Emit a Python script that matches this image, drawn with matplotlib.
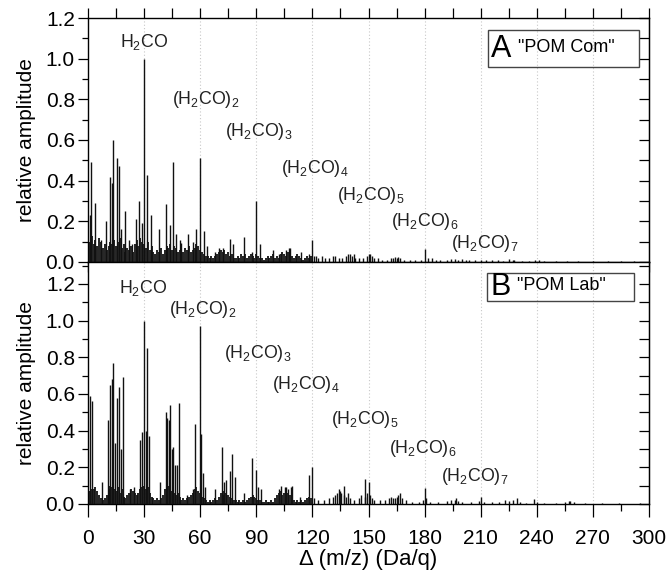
import numpy as np
import matplotlib
matplotlib.use("Agg")
import matplotlib.pyplot as plt
from matplotlib.patches import Rectangle
from matplotlib.ticker import MultipleLocator, FormatStrFormatter

plt.rcParams['font.family'] = ['Liberation Sans', 'DejaVu Sans']
plt.rcParams['mathtext.default'] = 'regular'

# ---------------------------------------------------------------------------
# Data (m/z difference, relative amplitude)
# ---------------------------------------------------------------------------

# Panel A "POM Com" -- dominant peaks
peaks_a_pos = [1, 1.6, 3.6, 7, 9.6, 11.8, 12.7, 13.6, 15.5, 16.6, 17.9, 19.8,
               21.8, 23.5, 25.6, 27.5, 28.7, 29.8, 31.6, 33.6, 38, 41.8, 43.6,
               45.7, 47.3, 49, 49.5, 53.6, 56.4, 57.7, 59.8, 61.8, 63.6, 68,
               70, 72, 75.7, 77.3, 83.5, 87.7, 89.9, 91.8, 98.9, 102, 106,
               107.3, 108, 114, 118, 119.8, 122]
peaks_a_amp = [0.23, 0.49, 0.29, 0.11, 0.20, 0.42, 0.39, 0.60, 0.51, 0.47, 0.16, 0.25,
               0.11, 0.09, 0.21, 0.30, 0.19, 1.00, 0.43, 0.23, 0.16, 0.285, 0.18,
               0.49, 0.14, 0.11, 0.095, 0.14, 0.10, 0.16, 0.51, 0.15, 0.08, 0.05,
               0.07, 0.07, 0.115, 0.09, 0.125, 0.05, 0.30, 0.09, 0.06, 0.04, 0.06,
               0.07, 0.07, 0.05, 0.04, 0.108, 0.03]

# Panel A -- low-level "grass", one value per integer m/z from 0 to 119
grass_a = [0.12, 0.10, 0.13, 0.09, 0.11, 0.08, 0.12, 0.10, 0.07, 0.09,
           0.06, 0.08, 0.10, 0.09, 0.11, 0.08, 0.10, 0.12, 0.07, 0.09,
           0.05, 0.07, 0.06, 0.08, 0.05, 0.09, 0.11, 0.08, 0.12, 0.10,
           0.09, 0.07, 0.10, 0.06, 0.08, 0.05, 0.04, 0.06, 0.05, 0.07,
           0.04, 0.06, 0.08, 0.07, 0.09, 0.06, 0.08, 0.07, 0.05, 0.06,
           0.04, 0.05, 0.07, 0.06, 0.08, 0.05, 0.06, 0.07, 0.09, 0.08,
           0.06, 0.05, 0.04, 0.03, 0.03, 0.02, 0.03, 0.02, 0.03, 0.04,
           0.05, 0.06, 0.05, 0.06, 0.04, 0.05, 0.03, 0.04, 0.02, 0.02,
           0.03, 0.02, 0.04, 0.03, 0.04, 0.02, 0.03, 0.04, 0.03, 0.02,
           0.04, 0.03, 0.02, 0.02, 0.01, 0.02, 0.03, 0.02, 0.03, 0.04,
           0.02, 0.03, 0.02, 0.04, 0.05, 0.04, 0.03, 0.05, 0.04, 0.03,
           0.02, 0.03, 0.04, 0.03, 0.02, 0.01, 0.02, 0.03, 0.02, 0.03]

# Panel A -- sparse tail above m/z 120
tail_a_pos = [121, 123, 125, 127, 129, 131, 132, 134, 136, 138, 139, 140, 141,
              142, 143, 145, 147, 149, 150, 151, 152, 153, 155, 157, 160, 162,
              163, 164, 165, 166, 167, 169, 172, 175, 178, 180, 182, 184, 186,
              188, 192, 194, 196, 198, 200, 202, 204, 207, 210, 213, 216, 219,
              222, 225, 227, 228, 232, 236, 239, 241, 244, 250, 256, 262, 270,
              278, 285, 292]
tail_a_amp = [0.03, 0.02, 0.03, 0.02, 0.02, 0.03, 0.03, 0.02, 0.02, 0.03, 0.04, 0.04, 0.03,
              0.04, 0.02, 0.02, 0.02, 0.03, 0.04, 0.04, 0.03, 0.02, 0.02, 0.01, 0.01, 0.02,
              0.02, 0.025, 0.02, 0.025, 0.02, 0.01, 0.01, 0.01, 0.01, 0.064, 0.02, 0.02, 0.01,
              0.01, 0.01, 0.015, 0.015, 0.01, 0.015, 0.01, 0.01, 0.01, 0.01, 0.01, 0.01, 0.01,
              0.005, 0.015, 0.012, 0.01, 0.005, 0.005, 0.01, 0.008, 0.005, 0.005, 0.005, 0.005, 0.004,
              0.004, 0.004, 0.003]

# Panel B "POM Lab" -- dominant peaks
peaks_b_pos = [1, 2, 7.7, 10.5, 11.8, 12.7, 13.6, 14.5, 15.7, 16.6, 17.5, 18.6,
               22.5, 24.5, 27.9, 28.8, 29.8, 30.9, 31.8, 32.7, 38.6, 41.6, 42.5,
               43.4, 43.9, 45, 45.7, 46.8, 47.7, 48.75, 53, 56, 57.3, 59.8, 60.4,
               61.3, 62.8, 68, 71.6, 73, 73.7, 75.8, 76.8, 78.6, 83.6, 87.7, 89.9,
               91.1, 92.5, 102, 103, 105.5, 106, 107, 108.8, 109.1, 113.5, 118.3,
               119.8, 134, 135, 136.8, 139, 147.9, 150, 152, 163, 165, 167, 180,
               197, 210.4, 229.6, 238.5, 258]
peaks_b_amp = [0.59, 0.56, 0.12, 0.46, 0.65, 0.68, 0.77, 0.33, 0.58, 0.64, 0.30, 0.69,
               0.08, 0.09, 0.35, 0.39, 1.00, 0.40, 0.85, 0.37, 0.12, 0.50, 0.47,
               0.46, 0.54, 0.30, 0.31, 0.21, 0.21, 0.55, 0.05, 0.08, 0.435, 0.97, 0.38,
               0.17, 0.09, 0.08, 0.31, 0.12, 0.13, 0.18, 0.27, 0.145, 0.06, 0.25, 0.185,
               0.09, 0.08, 0.08, 0.10, 0.095, 0.09, 0.08, 0.09, 0.10, 0.04, 0.16,
               0.20, 0.08, 0.07, 0.10, 0.06, 0.134, 0.12, 0.03, 0.03, 0.04, 0.06, 0.085,
               0.03, 0.04, 0.03, 0.025, 0.015]

# Panel B -- low-level "grass", one value per integer m/z from 0 to 119
grass_b = [0.06, 0.07, 0.08, 0.08, 0.09, 0.07, 0.05, 0.03, 0.02, 0.03,
           0.05, 0.08, 0.10, 0.09, 0.08, 0.07, 0.09, 0.06, 0.08, 0.04,
           0.03, 0.05, 0.06, 0.08, 0.07, 0.06, 0.05, 0.06, 0.08, 0.09,
           0.10, 0.08, 0.09, 0.06, 0.04, 0.03, 0.02, 0.03, 0.02, 0.03,
           0.05, 0.08, 0.09, 0.10, 0.08, 0.07, 0.06, 0.05, 0.06, 0.04,
           0.02, 0.03, 0.02, 0.03, 0.04, 0.05, 0.06, 0.08, 0.09, 0.07,
           0.06, 0.04, 0.03, 0.02, 0.01, 0.02, 0.01, 0.02, 0.03, 0.02,
           0.04, 0.06, 0.05, 0.07, 0.06, 0.05, 0.04, 0.03, 0.02, 0.02,
           0.01, 0.02, 0.01, 0.02, 0.01, 0.02, 0.03, 0.04, 0.05, 0.04,
           0.03, 0.02, 0.02, 0.01, 0.01, 0.02, 0.01, 0.01, 0.02, 0.01,
           0.03, 0.05, 0.06, 0.07, 0.05, 0.06, 0.07, 0.06, 0.05, 0.04,
           0.02, 0.01, 0.02, 0.01, 0.02, 0.01, 0.02, 0.03, 0.04, 0.03]

# Panel B -- sparse tail above m/z 120
tail_b_pos = [121, 123, 126, 129, 131, 132, 133, 135.5, 137, 138, 140, 142, 145,
              146, 148, 149, 151, 153, 156, 159, 161, 162, 164, 166, 168, 170,
              173, 177, 179, 181, 183, 187, 192, 194, 196, 198, 200, 205, 209,
              212, 216, 220, 223, 225, 227, 231, 234, 240, 244, 250, 255, 257,
              260, 266, 275, 284, 295]
tail_b_amp = [0.03, 0.02, 0.02, 0.03, 0.04, 0.05, 0.06, 0.06, 0.05, 0.04, 0.03, 0.02, 0.03,
              0.05, 0.04, 0.06, 0.05, 0.02, 0.02, 0.02, 0.03, 0.04, 0.03, 0.05, 0.03, 0.02,
              0.01, 0.01, 0.02, 0.03, 0.01, 0.01, 0.015, 0.02, 0.02, 0.015, 0.01, 0.01, 0.015,
              0.01, 0.01, 0.01, 0.02, 0.015, 0.02, 0.01, 0.005, 0.01, 0.005, 0.005, 0.01, 0.015,
              0.01, 0.005, 0.004, 0.004, 0.003]

# Cluster labels: (H2CO)n, left edge x and y for each panel
label_text = ['H$_2$CO', '(H$_2$CO)$_2$', '(H$_2$CO)$_3$', '(H$_2$CO)$_4$',
              '(H$_2$CO)$_5$', '(H$_2$CO)$_6$', '(H$_2$CO)$_7$']
label_a_x = [17, 45, 73.4, 103, 133, 162, 194]
label_a_y = [1.08, 0.80, 0.64, 0.46, 0.325, 0.20, 0.09]
label_b_x = [16.8, 43.4, 72.5, 98.4, 130, 161, 189]
label_b_y = [1.18, 1.06, 0.82, 0.65, 0.46, 0.30, 0.15]

grass_x = np.arange(len(grass_a))

# ---------------------------------------------------------------------------
# Figure
# ---------------------------------------------------------------------------

fig = plt.figure(figsize=(6.68, 5.74), dpi=100)
ax_a = fig.add_axes([0.1317, 0.5436, 0.8399, 0.4250])
ax_b = fig.add_axes([0.1317, 0.1220, 0.8399, 0.4216])

panels = [
    (ax_a, grass_a, peaks_a_pos, peaks_a_amp, tail_a_pos, tail_a_amp,
     label_a_x, label_a_y, 1.2, 'A', '"POM Com"', (0.713, 0.799, 0.269, 0.152)),
    (ax_b, grass_b, peaks_b_pos, peaks_b_amp, tail_b_pos, tail_b_amp,
     label_b_x, label_b_y, 1.32, 'B', '"POM Lab"', (0.712, 0.839, 0.262, 0.114)),
]

for (ax, grass, p_pos, p_amp, t_pos, t_amp, lx, ly, ytop,
     letter, name, box) in panels:
    for g in range(30, 300, 30):
        ax.axvline(g, color='#c8c8c8', linestyle=(0, (1, 2)), linewidth=0.8, zorder=0)

    ax.vlines(grass_x, 0, grass, color='#111111', linewidth=1.3, zorder=2)
    ax.vlines(t_pos, 0, t_amp, color='#111111', linewidth=1.0, zorder=2)
    ax.vlines(p_pos, 0, p_amp, color='#111111', linewidth=1.0, zorder=3)

    for txt, x, y in zip(label_text, lx, ly):
        ax.text(x, y, txt, fontsize=12.8, ha='left', va='center', color='#222222')

    ax.set_xlim(0, 300)
    ax.set_ylim(0, ytop)
    ax.xaxis.set_major_locator(MultipleLocator(30))
    ax.xaxis.set_minor_locator(MultipleLocator(15))
    ax.yaxis.set_major_locator(MultipleLocator(0.2))
    ax.yaxis.set_minor_locator(MultipleLocator(0.1))
    ax.yaxis.set_major_formatter(FormatStrFormatter('%.1f'))
    ax.tick_params(axis='both', which='major', direction='out', length=7,
                   width=0.9, labelsize=15, pad=2.5)
    ax.tick_params(axis='both', which='minor', direction='out', length=4, width=0.9)
    ax.set_ylabel('relative amplitude', fontsize=15, labelpad=7)
    for s in ax.spines.values():
        s.set_linewidth(1.0)

    # right-hand ticks point inwards
    sec = ax.secondary_yaxis('right')
    sec.yaxis.set_major_locator(MultipleLocator(0.2))
    sec.yaxis.set_minor_locator(MultipleLocator(0.1))
    sec.tick_params(which='both', direction='in', length=7, width=0.9, labelright=False)

    # panel tag box
    bx, by, bw, bh = box
    ax.add_patch(Rectangle((bx, by), bw, bh, transform=ax.transAxes,
                           fill=False, edgecolor='#444444', linewidth=1.0, zorder=5))
    ax.text(bx + 0.006, by + bh / 2, letter, transform=ax.transAxes,
            fontsize=22, ha='left', va='center', zorder=6)
    ax.text(bx + 0.053, by + bh / 2 + 0.005, name, transform=ax.transAxes,
            fontsize=13, ha='left', va='center', zorder=6)

ax_a.tick_params(axis='x', which='both', top=True, labelbottom=False, length=7)
ax_b.tick_params(axis='x', which='major', length=9, pad=9)
ax_b.tick_params(axis='x', which='minor', length=5)
ax_b.set_xlabel('\u0394 (m/z) (Da/q)', fontsize=16, labelpad=1)
ax_b.xaxis.set_major_formatter(FormatStrFormatter('%d'))

fig.savefig('out.png', dpi=100)
